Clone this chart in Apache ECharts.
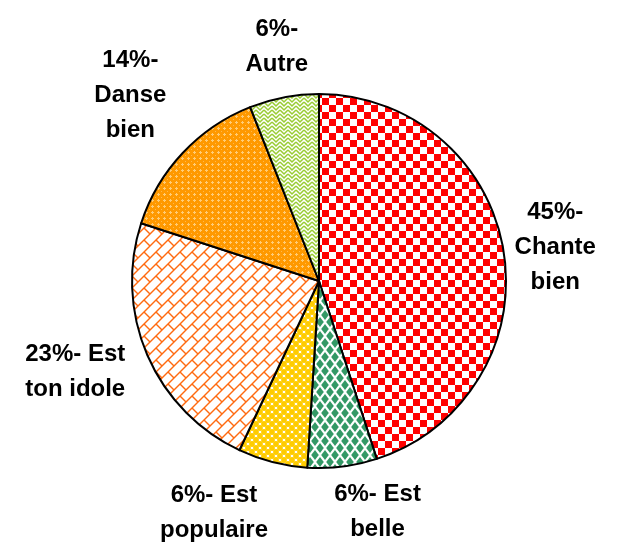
<!DOCTYPE html>
<html><head><meta charset="utf-8">
<script src="https://cdn.jsdelivr.net/npm/echarts@6/dist/echarts.min.js"></script>
<style>html,body{margin:0;padding:0;background:#fff}#c{width:618px;height:544px}</style>
</head><body><div id="c"></div>
<script>
var categories = ['Chante bien','Est belle','Est populaire','Est ton idole','Danse bien','Autre'];
var values = [45, 6, 6, 23, 14, 6];
var labelTexts = ['45%-\nChante\nbien','6%- Est\nbelle','6%- Est\npopulaire','23%- Est\nton idole','14%-\nDanse\nbien','6%-\nAutre'];

// label placement style (gap from the rim, angular shift in degrees)
var labelGap = [4, 7, 13, 14, 15, 11];
var labelShift = [1, -7, 10, 3, 1.3, 0.6];
var CX = 319, CY = 281, R = 187;

function tile(w, h, draw){var c=document.createElement('canvas');c.width=w;c.height=h;var g=c.getContext('2d');draw(g,w,h);return c;}
var pRed = tile(14,14,function(g){g.fillStyle='#fff';g.fillRect(0,0,14,14);g.fillStyle='#ff0000';g.fillRect(0,0,7,7);g.fillRect(7,7,7,7);});
var pGreen = tile(10,14,function(g){g.fillStyle='#fff';g.fillRect(0,0,10,14);g.fillStyle='#339966';
  var pts=[[5,7],[0,0],[10,0],[0,14],[10,14]];pts.forEach(function(p){var sx=3.8,sy=5;g.beginPath();g.moveTo(p[0],p[1]-sy);g.lineTo(p[0]+sx,p[1]);g.lineTo(p[0],p[1]+sy);g.lineTo(p[0]-sx,p[1]);g.closePath();g.fill();});});
var pYellow = tile(8,8,function(g){g.fillStyle='#fff';g.fillRect(0,0,8,8);g.fillStyle='#ffcc00';
  var pts=[[4,4],[0,0],[8,0],[0,8],[8,8]];pts.forEach(function(p){g.beginPath();g.arc(p[0],p[1],2.9,0,Math.PI*2);g.fill();});});
var pBrick = tile(24,24,function(g){g.fillStyle='#fff';g.fillRect(0,0,24,24);g.strokeStyle='#ff6a10';g.lineWidth=1.4;
  for(var c=-48;c<=72;c+=12){g.beginPath();g.moveTo(-30,c+30);g.lineTo(c+30,-30);g.stroke();}
  for(var k=-8;k<=8;k++){var s0=12*k,s1=12*k+12;var off=((k%2)+2)%2*12;
    for(var d=-72+off;d<=72;d+=24){g.beginPath();g.moveTo((s0+d)/2,(s0-d)/2);g.lineTo((s1+d)/2,(s1-d)/2);g.stroke();}}});
var pOrange = tile(6,6,function(g){g.fillStyle='#ff9900';g.fillRect(0,0,6,6);g.fillStyle='#ffcc77';g.fillRect(2,1,1,3);g.fillRect(1,2,3,1);g.fillStyle='#ffb84d';g.fillRect(5,5,1,1);});
var pLime = tile(8,8,function(g){g.fillStyle='#fff';g.fillRect(0,0,8,8);g.strokeStyle='#99cc33';g.lineWidth=1.5;
  g.beginPath();g.moveTo(0,2);g.lineTo(4,6);g.lineTo(8,2);g.stroke();
  g.beginPath();g.moveTo(0,-2);g.lineTo(4,2);g.lineTo(8,-2);g.stroke();
  g.beginPath();g.moveTo(0,6);g.lineTo(4,10);g.lineTo(8,6);g.stroke();});
var patterns = [pRed,pGreen,pYellow,pBrick,pOrange,pLime];

var total = values.reduce(function(a,b){return a+b;},0);
var midAngles = [];
(function(){var acc=0;values.forEach(function(v){midAngles.push((acc+v/2)/total*Math.PI*2);acc+=v;});})();

var data = categories.map(function(n,i){return {name:n,value:values[i],itemStyle:{color:{image:patterns[i],repeat:'repeat'}},label:{formatter:labelTexts[i]}};});

var chart = echarts.init(document.getElementById('c'),null,{renderer:'canvas'});
chart.setOption({
  animation:false,
  series:[{type:'pie',center:[CX,CY],radius:R,startAngle:90,clockwise:true,
    itemStyle:{borderColor:'#000',borderWidth:2},
    label:{show:true,position:'outside',overflow:'none',fontFamily:'"Liberation Sans", Arial',fontWeight:'bold',fontSize:24,lineHeight:35,color:'#000'},
    labelLine:{show:false,length:20,length2:0},
    labelLayout:function(p){
      var i=p.dataIndex;
      var a=midAngles[i]+labelShift[i]*Math.PI/180;var dx=Math.sin(a),dy=-Math.cos(a);
      var w=p.labelRect.width,h=p.labelRect.height;
      var dist=R+labelGap[i]+Math.abs(dx)*w/2+Math.abs(dy)*h/2;
      return {x:CX+dx*dist,y:CY+dy*dist,align:'center',verticalAlign:'middle'};
    },
    emphasis:{disabled:true},
    data:data}]
});
</script></body></html>
